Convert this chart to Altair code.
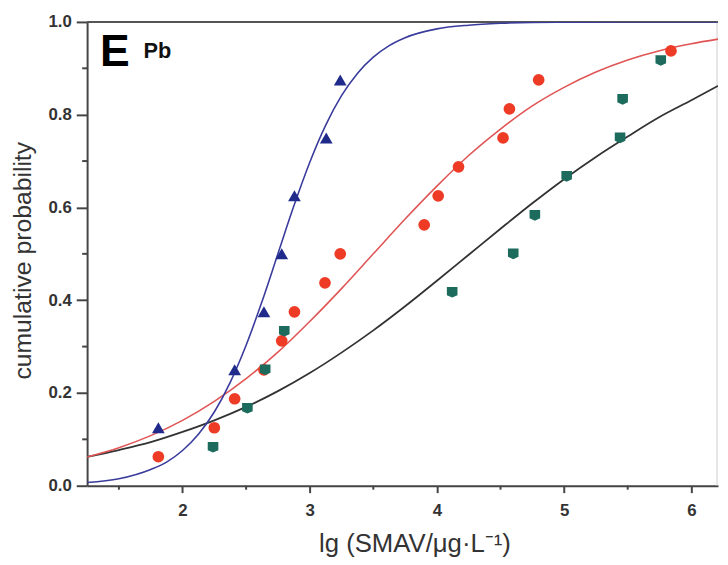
import altair as alt
import pandas as pd

# ---- data ----
blue_x = [1.81, 2.41, 2.64, 2.78, 2.88, 3.13, 3.24]
blue_y = [0.125, 0.25, 0.375, 0.5, 0.625, 0.75, 0.875]

red_x = [1.81, 2.25, 2.41, 2.64, 2.78, 2.88, 3.12, 3.24, 3.90, 4.01, 4.17, 4.52, 4.57, 4.80, 5.84]
red_y = [0.0625, 0.125, 0.1875, 0.25, 0.3125, 0.375, 0.4375, 0.5, 0.5625, 0.625,
         0.6875, 0.75, 0.8125, 0.875, 0.9375]

green_x = [2.24, 2.51, 2.65, 2.80, 4.12, 4.60, 4.77, 5.02, 5.44, 5.46, 5.76]
green_y = [0.083, 0.167, 0.25, 0.333, 0.417, 0.5, 0.583, 0.667, 0.75, 0.833, 0.917]

blue_curve_x = [1.25, 1.5, 1.75, 1.875, 2.0, 2.125, 2.25, 2.375, 2.5, 2.625, 2.75, 2.875,
                3.0, 3.125, 3.25, 3.375, 3.5, 3.625, 3.75, 4.0, 4.25, 4.5, 4.75, 5.0, 5.5, 6.21]
blue_curve_y = [0.007, 0.015, 0.035, 0.051, 0.076, 0.111, 0.159, 0.223, 0.303, 0.397, 0.5, 0.603,
                0.697, 0.777, 0.841, 0.889, 0.924, 0.949, 0.966, 0.985, 0.993, 0.997, 0.999,
                0.9995, 0.9999, 1.0]

curve_x = [1.25, 1.5, 1.75, 2.0, 2.25, 2.5, 2.75, 3.0, 3.25, 3.5, 3.75, 4.0, 4.25, 4.5,
           4.75, 5.0, 5.25, 5.5, 5.75, 6.0, 6.21]
red_curve_y = [0.062, 0.082, 0.108, 0.141, 0.182, 0.231, 0.288, 0.354, 0.425, 0.5, 0.575,
               0.646, 0.712, 0.769, 0.819, 0.859, 0.892, 0.918, 0.938, 0.953, 0.963]
black_curve_y = [0.062, 0.077, 0.094, 0.116, 0.141, 0.170, 0.204, 0.243, 0.287, 0.335, 0.387,
                 0.442, 0.498, 0.554, 0.609, 0.661, 0.709, 0.753, 0.795, 0.831, 0.862]

x_major = [2, 3, 4, 5, 6]
x_minor = [1.5, 2.5, 3.5, 4.5, 5.5]
y_major = [0.0, 0.2, 0.4, 0.6, 0.8, 1.0]
y_minor = [0.1, 0.3, 0.5, 0.7, 0.9]

W, H = 638, 469
AX = "#444444"
FONT = "Liberation Sans"

x_scale = alt.Scale(domain=[1.25, 6.21], nice=False, zero=False)
y_scale = alt.Scale(domain=[0, 1], nice=False, zero=False)

x_axis = alt.Axis(values=x_major, format="d", tickSize=7, tickWidth=2, tickColor=AX,
                  domainColor=AX, domainWidth=2, labelPadding=10, grid=False,
                  labelFont=FONT, labelFontSize=17, labelFontWeight="bold",
                  labelColor="#333333", titleFont=FONT, titleFontSize=26,
                  titleFontWeight="normal", titleColor="#333333",
                  title="lg (SMAV/μg·L⁻¹)", titleX=331, titleY=67,
                  titleBaseline="alphabetic")
y_axis = alt.Axis(values=y_major, format=".1f", tickSize=11, tickWidth=2, tickColor=AX,
                  domainColor=AX, domainWidth=2, labelPadding=5, grid=False,
                  labelFont=FONT, labelFontSize=17, labelFontWeight="bold",
                  labelColor="#333333", titleFont=FONT, titleFontSize=25,
                  titleFontWeight="normal", titleColor="#333333",
                  title="cumulative probability", titleX=-57, titleY=241,
                  titleBaseline="alphabetic")

X = alt.X("x:Q", scale=x_scale, axis=x_axis)
Y = alt.Y("y:Q", scale=y_scale, axis=y_axis)


def line(xs, ys, color, w=1.6):
    return alt.Chart(pd.DataFrame({"x": xs, "y": ys})).mark_line(
        color=color, strokeWidth=w, interpolate="monotone", clip=True
    ).encode(x=X, y=Y)


def pts(xs, ys, color, shape, size):
    return alt.Chart(pd.DataFrame({"x": xs, "y": ys})).mark_point(
        filled=True, color=color, shape=shape, size=size, opacity=1
    ).encode(x=X, y=Y)


shield = "M-1,-1 L1,-1 L1,0.55 L0,1 L-1,0.55 Z"

black_line = line(curve_x, black_curve_y, "#333333", 1.8)
red_line = line(curve_x, red_curve_y, "#e05555", 1.6)
blue_line = line(blue_curve_x, blue_curve_y, "#3a3c9c", 1.6)

red_pts = pts(red_x, red_y, "#ee3b26", "circle", 140)
green_pts = pts(green_x, green_y, "#1d6b5d", shield, 115)
blue_pts = pts(blue_x, blue_y, "#1f2a8a", "triangle-up", 165)

minor_y = alt.Chart(pd.DataFrame({"y": y_minor})).mark_rule(
    color=AX, strokeWidth=2).encode(y=Y, x=alt.value(-5), x2=alt.value(0))
minor_x = alt.Chart(pd.DataFrame({"x": x_minor})).mark_rule(
    color=AX, strokeWidth=2).encode(x=X, y=alt.value(H), y2=alt.value(H + 4))

top_border = alt.Chart(pd.DataFrame({"a": [0]})).mark_rule(
    color="#555555", strokeWidth=2).encode(x=alt.value(0), x2=alt.value(W), y=alt.value(0))
right_border = alt.Chart(pd.DataFrame({"a": [0]})).mark_rule(
    color="#cccccc", strokeWidth=1).encode(x=alt.value(W - 1), y=alt.value(0), y2=alt.value(H))

label_E = alt.Chart(pd.DataFrame({"t": ["E"]})).mark_text(
    font=FONT, fontSize=45, fontWeight="bold", color="#000000",
    align="left", baseline="alphabetic").encode(text="t:N", x=alt.value(13), y=alt.value(45))
label_Pb = alt.Chart(pd.DataFrame({"t": ["Pb"]})).mark_text(
    font=FONT, fontSize=22, fontWeight="bold", color="#111111",
    align="left", baseline="alphabetic").encode(text="t:N", x=alt.value(57), y=alt.value(36))

chart = alt.layer(
    top_border, right_border, minor_y, minor_x,
    black_line, red_line, blue_line,
    red_pts, green_pts, blue_pts,
    label_E, label_Pb,
).properties(
    width=W, height=H,
    background="#ffffff",
    autosize=alt.AutoSizeParams(type="none"),
    padding={"left": 80, "top": 11, "right": 2, "bottom": 70},
).configure_view(stroke=None)

chart.save("out.html", embed_options={"renderer": "svg", "actions": False})
